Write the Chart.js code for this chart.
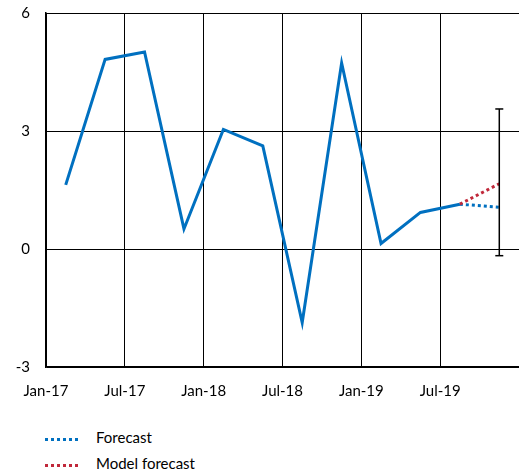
<!DOCTYPE html>
<html>
<head>
<meta charset="utf-8">
<script src="https://cdn.jsdelivr.net/npm/chart.js@4/dist/chart.umd.min.js"></script>
<style>
  body { margin: 0; background: #fff; font-family: Lato, sans-serif; }
  #wrap { position: relative; width: 519px; height: 475px; }
  #chart { position: absolute; left: 0; top: 0; }
  .leg { position: absolute; left: 45px; font-size: 15px; color: #000; }
  .leg span.s { position: absolute; left: 0; width: 36px; height: 3px; }
  .leg span.t { position: absolute; left: 51px; white-space: nowrap; }
</style>
</head>
<body>
<div id="wrap">
  <canvas id="chart" width="519" height="410"></canvas>
  <div class="leg" style="top:438px">
    <span class="s" style="top:0;background:repeating-linear-gradient(90deg,#0070C0 0 3px,transparent 3px 6px)"></span>
    <span class="t" style="top:-10px">Forecast</span>
  </div>
  <div class="leg" style="top:464px">
    <span class="s" style="top:0;background:repeating-linear-gradient(90deg,#C0283A 0 3px,transparent 3px 6px)"></span>
    <span class="t" style="top:-10px">Model forecast</span>
  </div>
</div>
<script>
// quarters shown on the chart
const quarters = ["Q1-17", "Q2-17", "Q3-17", "Q4-17", "Q1-18", "Q2-18", "Q3-18", "Q4-18", "Q1-19", "Q2-19", "Q3-19", "Q4-19"];
const actual = [1.63, 4.82, 5.01, 0.51, 3.04, 2.62, -1.87, 4.73, 0.14, 0.93, 1.14, null];
const forecast = [null, null, null, null, null, null, null, null, null, null, 1.14, 1.06];
const modelForecast = [null, null, null, null, null, null, null, null, null, null, 1.14, 1.66];
const errorLow = -0.17;
const errorHigh = 3.56;
const xTickLabels = ["Jan-17", "Jul-17", "Jan-18", "Jul-18", "Jan-19", "Jul-19"];
const yTicks = [-3, 0, 3, 6];

// each quarter sits in the middle of its slot
const toPoints = arr => arr.map((v, i) => ({ x: i + 0.5, y: v }));
const lastX = quarters.length - 0.5;

new Chart(document.getElementById("chart"), {
    type: "line",
    data: {
        datasets: [
            {
                label: "Error",
                data: [{ x: lastX, y: errorLow }, { x: lastX, y: errorHigh }],
                borderColor: "#000",
                borderWidth: 1.5,
                pointStyle: "line",
                pointRadius: 4,
                pointBorderColor: "#000",
                pointBorderWidth: 1.5
            },
            {
                label: "Model forecast",
                data: toPoints(modelForecast),
                borderColor: "#C0283A",
                borderWidth: 3,
                borderDash: [3, 3],
                pointRadius: 0
            },
            {
                label: "Forecast",
                data: toPoints(forecast),
                borderColor: "#0070C0",
                borderWidth: 3,
                borderDash: [3, 3],
                pointRadius: 0
            },
            {
                label: "Actual",
                data: toPoints(actual),
                borderColor: "#0070C0",
                borderWidth: 3,
                pointRadius: 0,
                borderJoinStyle: "miter"
            }
        ]
    },
    options: {
        responsive: false,
        animation: false,
        layout: { autoPadding: false, padding: { top: 13, right: 0, left: 0, bottom: 0 } },
        plugins: { legend: { display: false }, tooltip: { enabled: false } },
        scales: {
            x: {
                type: "linear",
                min: 0,
                max: quarters.length,
                afterBuildTicks: axis => {
                    axis.ticks = [0, 2, 4, 6, 8, 10, 12].map(v => ({ value: v }));
                },
                afterFit: axis => {
                    axis.height = 43;
                    axis.paddingLeft = 0;
                    axis.paddingRight = 0;
                },
                ticks: {
                    autoSkip: false,
                    maxRotation: 0,
                    padding: 15,
                    color: "#000",
                    font: { family: "Lato", size: 15 },
                    callback: v => xTickLabels[v / 2] || ""
                },
                grid: { color: "#000", lineWidth: 1, drawTicks: false },
                border: { color: "#000", width: 1.5 }
            },
            y: {
                min: -3,
                max: 6,
                afterBuildTicks: axis => {
                    axis.ticks = yTicks.map(v => ({ value: v }));
                },
                afterFit: axis => {
                    axis.width = 46;
                    axis.paddingTop = 0;
                    axis.paddingBottom = 0;
                },
                ticks: {
                    padding: 16,
                    color: "#000",
                    font: { family: "Lato", size: 15 }
                },
                grid: { color: "#000", lineWidth: 1, drawTicks: false },
                border: { color: "#000", width: 1.5 }
            }
        }
    }
});
</script>
</body>
</html>
